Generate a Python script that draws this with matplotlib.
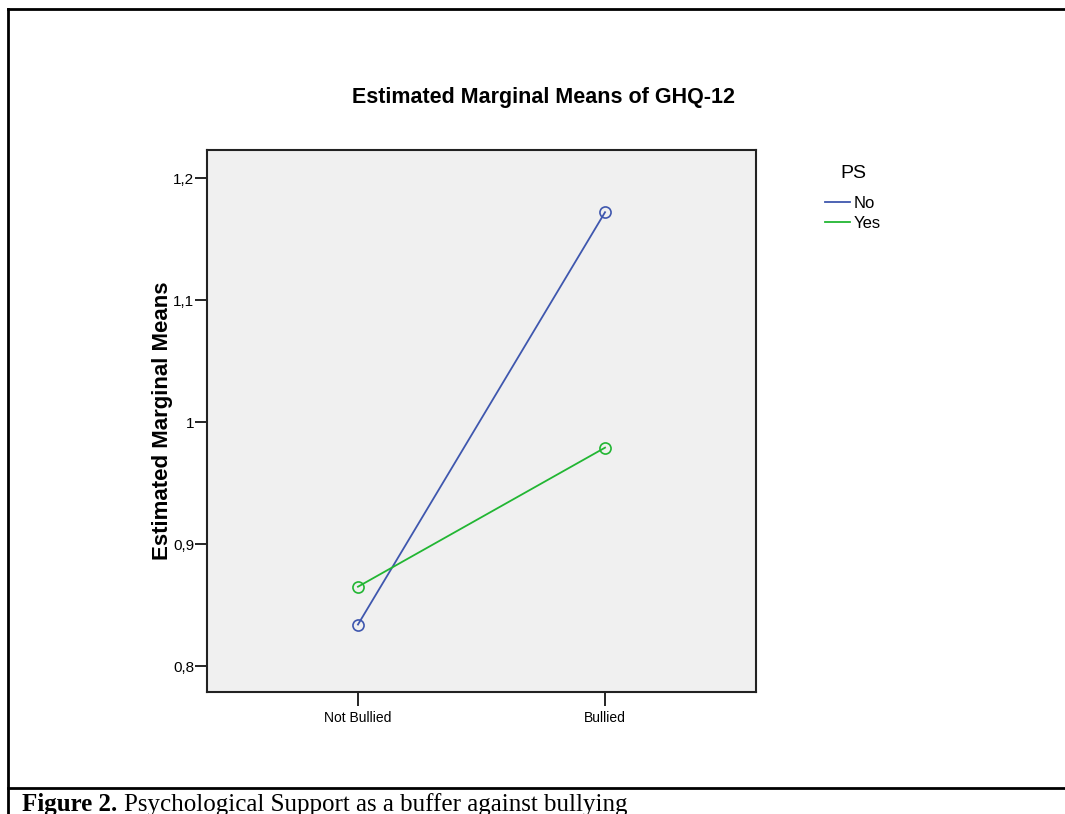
import matplotlib
matplotlib.use("Agg")
import matplotlib.pyplot as plt
from matplotlib.lines import Line2D
from matplotlib.ticker import FuncFormatter

# valori
categories = ["Not Bullied", "Bullied"]
groups = ["No", "Yes"]
means_no = [0.834, 1.172]
means_yes = [0.865, 0.979]
yticks = [0.8, 0.9, 1.0, 1.1, 1.2]

colors = {"No": "#3f57ae", "Yes": "#22b633"}
SANS = ["Liberation Sans", "DejaVu Sans"]

W, H = 1065, 814
fig = plt.figure(figsize=(W / 100, H / 100), dpi=100)

# assi in coordinate pixel
l, r, t, b = 207, 756, 150, 692
ax = fig.add_axes([l / W, 1 - b / H, (r - l) / W, (b - t) / H])
ax.set_facecolor("#f0f0f0")

x = list(range(len(categories)))
for name, vals in zip(groups, [means_no, means_yes]):
    ax.plot(x, vals, color=colors[name], lw=1.3, marker="o", markersize=8,
            markerfacecolor="none", markeredgewidth=1.2, label=name)

ax.set_xlim(-0.611, 1.611)
ax.set_ylim(0.7787, 1.223)
ax.set_xticks(x)
ax.set_xticklabels(categories, family=SANS, fontsize=10)
ax.set_yticks(yticks)
ax.yaxis.set_major_formatter(FuncFormatter(lambda v, p: f"{v:g}".replace(".", ",")))
for lab in ax.get_yticklabels():
    lab.set_family(SANS)
    lab.set_fontsize(11)
ax.tick_params(axis="y", direction="out", length=9, width=1.2, pad=0)
ax.tick_params(axis="x", direction="out", length=10, width=1.2, pad=4)
for s in ax.spines.values():
    s.set_linewidth(1.5)
    s.set_color("#222222")

ax.set_ylabel("Estimated Marginal Means", family=SANS, fontsize=16,
              fontweight="bold", labelpad=0)

fig.text(543 / W, 1 - 97 / H, "Estimated Marginal Means of GHQ-12", family=SANS,
         fontsize=15.5, fontweight="bold", ha="center", va="center")

# legenda
fig.text(853 / W, 1 - 173 / H, "PS", family=SANS, fontsize=14,
         ha="center", va="center")
handles = [Line2D([0], [0], color=colors[g], lw=1.3) for g in groups]
leg = fig.legend(handles, groups, loc="upper left",
                 bbox_to_anchor=(825 / W, 1 - 196 / H), frameon=False,
                 borderpad=0, borderaxespad=0,
                 handlelength=1.5, handletextpad=0.2, labelspacing=0.3,
                 prop={"family": SANS, "size": 12})

# cornice della pagina
fig.add_artist(Line2D([8 / W, 1], [1 - 9 / H, 1 - 9 / H], color="black", lw=2))
fig.add_artist(Line2D([8 / W, 8 / W], [0, 1 - 9 / H], color="black", lw=2))
fig.add_artist(Line2D([8 / W, 1], [1 - 788 / H, 1 - 788 / H], color="black", lw=2))

# didascalia
fig.text(22 / W, 1 - 811 / H, "Figure 2.", family="Liberation Serif", fontsize=18,
         fontweight="bold", va="baseline")
fig.text(124 / W, 1 - 811 / H, "Psychological Support as a buffer against bullying",
         family="Liberation Serif", fontsize=18, va="baseline")

fig.savefig("out.png", dpi=100)
